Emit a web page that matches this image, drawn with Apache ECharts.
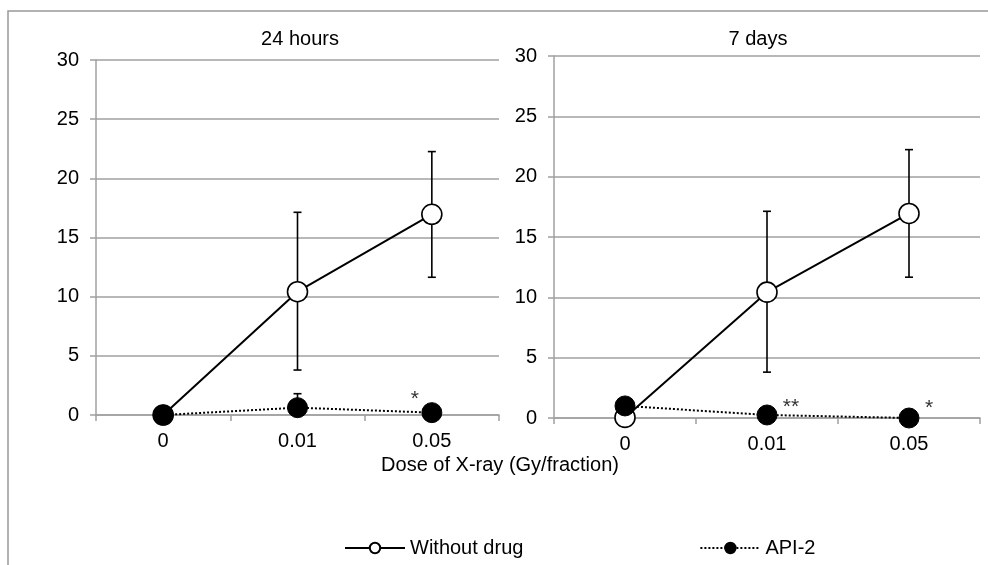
<!DOCTYPE html>
<html>
<head>
<meta charset="utf-8">
<script src="https://cdn.jsdelivr.net/npm/echarts@6/dist/echarts.min.js"></script>
<style>
  html, body { margin: 0; padding: 0; background: #fff; }
  #main { width: 988px; height: 565px; }
</style>
</head>
<body>
<div id="main"></div>
<script>
var doses = ["0", "0.01", "0.05"];

// 24 hours panel
var without24h = [0, 10.42, 16.96];
var without24hLow = [0, 3.8, 11.64];
var without24hHigh = [0, 17.13, 22.26];
var api24h = [0, 0.62, 0.2];
var api24hLow = [0, 0.62, 0.2];
var api24hHigh = [0, 1.8, 0.2];
var marks24h = ["", "", "*"];

// 7 days panel
var without7d = [0.05, 10.43, 16.95];
var without7dLow = [0.05, 3.8, 11.67];
var without7dHigh = [0.05, 17.13, 22.24];
var api7d = [1.0, 0.25, 0];
var marks7d = ["", "**", "*"];

var FONT = "Liberation Sans";
var GRAY = "#a0a0a0";

var chartDom = document.getElementById("main");
var myChart = echarts.init(chartDom);
var option;

function errorBars(idx, lows, highs) {
  return {
    type: "custom",
    xAxisIndex: idx,
    yAxisIndex: idx,
    z: 1,
    silent: true,
    data: doses.map(function (d, i) { return [i, lows[i], highs[i]]; }),
    renderItem: function (params, api) {
      var x = api.value(0);
      var lo = api.coord([x, api.value(1)]);
      var hi = api.coord([x, api.value(2)]);
      if (Math.abs(hi[1] - lo[1]) < 1) return;
      var st = { stroke: "#000", lineWidth: 1.6 };
      return {
        type: "group",
        children: [
          { type: "line", shape: { x1: lo[0], y1: lo[1], x2: hi[0], y2: hi[1] }, style: st },
          { type: "line", shape: { x1: lo[0] - 4, y1: lo[1], x2: lo[0] + 4, y2: lo[1] }, style: st },
          { type: "line", shape: { x1: hi[0] - 4, y1: hi[1], x2: hi[0] + 4, y2: hi[1] }, style: st }
        ]
      };
    }
  };
}

// where the asterisks sit next to each API-2 point
var markOffset24h = [[0, 0], [0, 0], [-17, -13]];
var markOffset7d = [[0, 0], [24, -8], [20, -10]];

function apiData(values, marks, offsets) {
  return values.map(function (v, i) {
    return {
      value: v,
      label: {
        show: marks[i] !== "",
        formatter: marks[i],
        position: "inside",
        offset: offsets[i],
        color: "#333",
        fontSize: 21,
        fontFamily: FONT
      }
    };
  });
}

function xAxis(idx) {
  return {
    type: "category",
    gridIndex: idx,
    data: doses,
    boundaryGap: true,
    axisLine: { lineStyle: { color: GRAY, width: 1.5 } },
    axisTick: { show: true, length: 6, lineStyle: { color: GRAY, width: 1.5 } },
    axisLabel: { color: "#000", fontSize: 20, fontFamily: FONT, margin: 16 }
  };
}

function yAxis(idx) {
  return {
    type: "value",
    gridIndex: idx,
    min: 0,
    max: 30,
    interval: 5,
    axisLine: { show: true, lineStyle: { color: GRAY, width: 1.5 } },
    axisTick: { show: true, length: 6, lineStyle: { color: GRAY, width: 1.5 } },
    axisLabel: { color: "#000", fontSize: 20, fontFamily: FONT, margin: 17 },
    splitLine: { lineStyle: { color: GRAY, width: 1.5 } }
  };
}

var withoutStyle = {
  type: "line",
  name: "Without drug",
  symbol: "circle",
  symbolSize: 20,
  z: 2,
  lineStyle: { color: "#000", width: 2 },
  itemStyle: { color: "#fff", borderColor: "#000", borderWidth: 1.6 }
};

var apiStyle = {
  type: "line",
  name: "API-2",
  symbol: "circle",
  symbolSize: 20,
  z: 3,
  lineStyle: { color: "#000", width: 2, type: [2, 2] },
  itemStyle: { color: "#000", borderColor: "#000", borderWidth: 1 }
};

var titleText = { fontSize: 20, fontWeight: "normal", color: "#000", fontFamily: FONT };

option = {
  animation: false,
  backgroundColor: "#fff",
  textStyle: { fontFamily: FONT },
  title: [
    { text: "24 hours", left: 295, top: 24, textAlign: "center", textStyle: titleText },
    { text: "7 days", left: 753, top: 24, textAlign: "center", textStyle: titleText },
    { text: "Dose of X-ray (Gy/fraction)", left: 495, top: 450, textAlign: "center", textStyle: titleText }
  ],
  legend: {
    left: 339,
    top: 533,
    itemWidth: 60,
    itemHeight: 13,
    itemGap: 176,
    data: ["Without drug", "API-2"],
    textStyle: { fontSize: 20, color: "#000", fontFamily: FONT }
  },
  graphic: [
    {
      type: "rect",
      silent: true,
      shape: { x: 8, y: 11, width: 1000, height: 600 },
      style: { fill: "none", stroke: "#999", lineWidth: 1.5 }
    }
  ],
  grid: [
    { left: 96, right: 489, top: 60, bottom: 150 },
    { left: 554, right: 8, top: 56, bottom: 147 }
  ],
  xAxis: [xAxis(0), xAxis(1)],
  yAxis: [yAxis(0), yAxis(1)],
  series: [
    errorBars(0, without24hLow, without24hHigh),
    errorBars(0, api24hLow, api24hHigh),
    errorBars(1, without7dLow, without7dHigh),
    Object.assign({}, withoutStyle, { xAxisIndex: 0, yAxisIndex: 0, data: without24h }),
    Object.assign({}, apiStyle, { xAxisIndex: 0, yAxisIndex: 0, data: apiData(api24h, marks24h, markOffset24h) }),
    Object.assign({}, withoutStyle, { xAxisIndex: 1, yAxisIndex: 1, data: without7d }),
    Object.assign({}, apiStyle, { xAxisIndex: 1, yAxisIndex: 1, data: apiData(api7d, marks7d, markOffset7d) })
  ]
};

option && myChart.setOption(option);
</script>
</body>
</html>
